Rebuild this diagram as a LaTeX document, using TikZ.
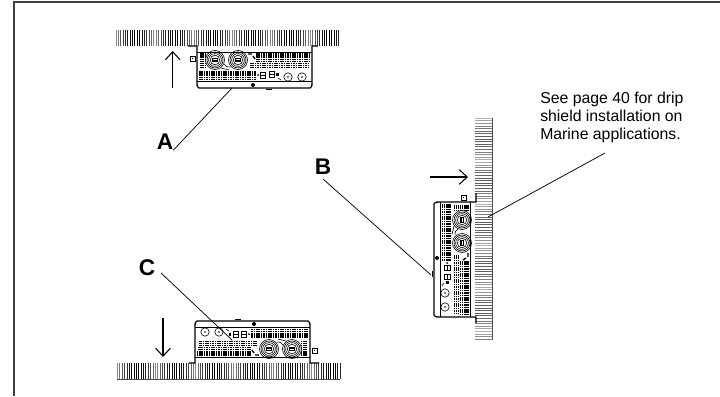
\documentclass[tikz,border=0pt]{standalone}
\usepackage{fontspec}
\setmainfont{Liberation Sans}
\usetikzlibrary{arrows.meta}
\tikzset{
  frameline/.style={line width=1.1pt,draw=black!75},
  leader/.style={line width=0.55pt,draw=black},
  bigarrow/.style={line width=0.8pt,-{Straight Barb[length=6pt,width=11pt,line width=0.8pt]}},
  letter/.style={font=\bfseries\fontsize{17pt}{18pt}\selectfont,inner sep=0pt},
  note/.style={font=\fontsize{11.85pt}{13.75pt}\selectfont,align=left,inner sep=0pt,anchor=north west},
  fin/.style={line width=0.7pt},
  vent/.style={line width=0.95pt,draw=black,dash pattern=on 1.25pt off 0.55pt},
  body/.style={line width=0.7pt,draw=black},
  thin part/.style={line width=0.45pt,draw=black},
}
\newcommand{\inverterdraw}{%
    \draw[line width=0.9pt] (188,46)--(197,46)--(197,84) to[out=90,in=180] (199,88)--(310,88) to[out=0,in=90] (312,84)--(312,46)--(318,46);
    \draw[body] (197,52)--(312,52);
    \draw[thin part] (197,81.5)--(312,81.5);
    \draw[thin part] (190,56) rectangle (195,61);
    \fill (192.5,58.5) circle (0.6);
    \foreach \r in {54,55.9,...,68} \draw[vent] (200,\r)--(206,\r);
    \foreach \c in {215,238}{
      \draw[thin part] (\c,60) circle (9.5);
      \draw[thin part] (\c,60) circle (8);
      \draw[thin part] (\c,60) circle (6.4);
      \draw[thin part] (\c,60) circle (4.8);
      \fill (\c-3.2,58) rectangle (\c+3.2,62);
      \fill[white] (\c-2,59) rectangle (\c+2,60);
    }
    \draw[thin part] (224,64) to[out=-60,in=200] (230,67) (221,68)--(229,70);
    \foreach \r in {54,55.9,57.8} \draw[vent] (256,\r)--(310,\r);
    \foreach \r in {59.7,61.6} \draw[vent] (256,\r)--(309,\r);
    \foreach \r in {63.5,65.4,67.3} \draw[vent] (250,\r)--(308,\r);
    \draw[line width=1pt] (248,54)--(252,54) (253,56)--(255,59);
    \foreach \r in {72,73.9,...,80} \draw[vent] (199,\r)--(256,\r);
    \draw[body] (260.5,72) rectangle (265.5,78);
    \draw[thin part] (260.5,75)--(265.5,75);
    \draw[body] (269,71.5) rectangle (274,77.5);
    \draw[thin part] (269,74.5)--(274,74.5);
    \fill (276,73) rectangle (278.5,76);
    \fill (258,75) circle (1);
    \draw[thin part] (278,78)--(281,80);
    \foreach \c in {288,302}{
      \draw[thin part] (\c,77) circle (4.2);
      \fill (\c,77) circle (0.9);
    }
    \fill (253,85) circle (2);
    \draw[line width=1pt] (266,89.5)--(272,89.5);
}
\begin{document}
\begin{tikzpicture}[x=0.75pt,y=-0.75pt]
\useasboundingbox (0,0) rectangle (720,396);
\coordinate (fbl) at (14,396);
\coordinate (ftl) at (14,2);
\coordinate (ftr) at (720,2);
\draw[frameline] (fbl)--(ftl)--(ftr);
\foreach \i [evaluate=\i as \g using {int(45+55*abs(sin(\i*11)))}] in {0,...,94} {
  \draw[fin,draw=black!\g] ({116+2.37*\i},29.5)--({116+2.37*\i},45.5);
  \draw[fin,draw=black!\g] ({117.5+2.37*\i},363)--({117.5+2.37*\i},379);
}
\draw[line width=0.5pt,draw=black!70] (117,379)--(340,379);
\foreach \i [evaluate=\i as \g using {int(30+35*abs(sin(\i*11)))}] in {0,...,85}
  \draw[line width=0.45pt,draw=black!\g] (475,{118+2.6*\i})--(492,{118+2.6*\i});
\draw[line width=0.5pt,draw=black!70] (492,118)--(492,340);
\inverterdraw
\begin{scope}[cm={-1,0,0,-1,(380.25pt,-306.75pt)}]
  \inverterdraw
\end{scope}
\begin{scope}[cm={0,-1,1,0,(391.5pt,-3.75pt)}]
  \inverterdraw
\end{scope}
\coordinate (a1) at (172.7,88); \coordinate (a2) at (172.7,51);
\coordinate (c1) at (163,318); \coordinate (c2) at (163,357);
\coordinate (b1) at (430,177); \coordinate (b2) at (468,177);
\draw[bigarrow] (a1)--(a2);
\draw[bigarrow] (c1)--(c2);
\draw[bigarrow] (b1)--(b2);
\node[letter] (la) at (165,142) {A};
\node[letter] (lb) at (323,167) {B};
\node[letter] (lc) at (147,268) {C};
\node[note] (nt) at (540,91.5) {See page 40 for drip\\shield installation on\\Marine applications.};
\coordinate (ta) at (232,88);
\coordinate (tb) at (431,275);
\coordinate (tc) at (232,340);
\coordinate (tn) at (488,217);
\coordinate (sn) at (605,153);
\draw[leader] (la.south east)--(ta);
\draw[leader] (323,179)--(tb);
\draw[leader] (161,273)--(tc);
\draw[leader] (tn)--(sn);
\end{tikzpicture}
\end{document}
